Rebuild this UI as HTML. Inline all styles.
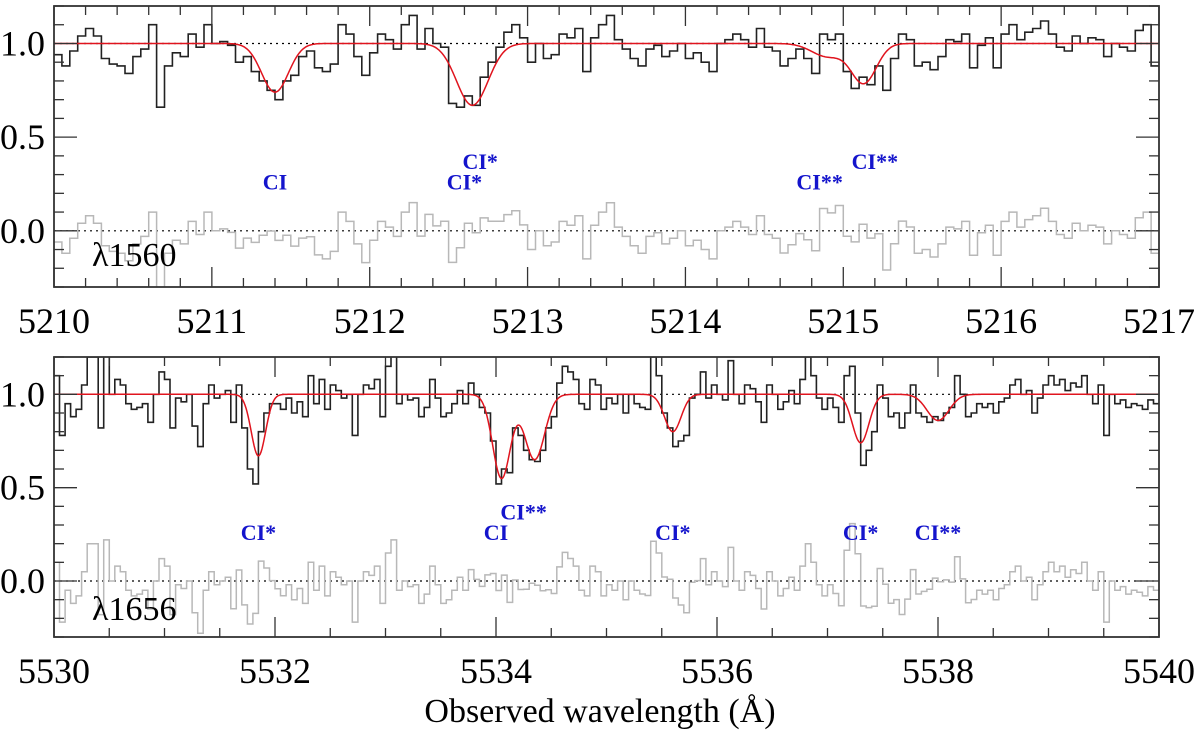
<!DOCTYPE html>
<html><head><meta charset="utf-8"><style>
body{margin:0;background:#fff}
svg text{font-family:"Liberation Serif","Times New Roman",serif}
</style></head><body>
<svg id="chart" width="1200" height="731" viewBox="0 0 1200 731" xmlns="http://www.w3.org/2000/svg"></svg>
<script>
// ---- data ----
const topStart = 5210.0;
const topBin = 0.05;
const topFlux = [
0.94,0.88,0.96,1.04,1.08,1.04,0.92,0.89,0.88,0.84,0.93,0.97,1.1,0.66,0.88,0.95,0.93,1.05,0.98,1.1,
1.0,1.01,0.99,0.9,0.93,0.85,0.8,0.75,0.7,0.8,0.83,0.93,0.96,0.87,0.85,0.89,1.1,1.05,0.93,0.83,
0.95,1.05,1.02,0.97,1.1,1.15,0.97,1.08,1.0,0.98,0.68,0.66,0.72,0.67,0.82,0.9,0.98,1.06,1.1,1.03,
0.9,1.0,0.92,0.94,1.05,1.03,1.08,0.85,1.03,1.1,1.15,1.02,0.97,0.92,0.88,0.97,0.99,0.93,0.96,1.0,
0.92,0.95,0.9,0.85,1.0,1.02,1.05,1.02,0.98,1.08,0.98,0.96,0.88,0.92,0.97,0.92,0.84,1.05,1.02,1.05,
0.85,0.76,0.82,0.78,0.88,0.75,0.92,1.05,1.02,0.88,0.9,0.86,0.93,1.02,1.01,1.05,0.87,0.99,1.03,0.87,
1.05,1.1,1.02,1.06,1.08,1.12,1.05,0.98,0.96,1.04,1.0,1.03,1.02,0.93,1.0,0.98,0.96,1.07,1.1,0.88];
const topLineCenters = [5211.4,5212.65,5214.9,5215.13];
const topLineDepths = [0.26,0.33,0.07,0.21];
const topLineSigmas = [0.085,0.1,0.1,0.08];

const botStart = 5530.0;
const botBin = 0.05;
const botFlux = [
1.1,0.78,0.95,0.88,0.92,1.05,1.2,1.2,0.82,1.22,1.0,1.08,1.05,0.95,0.92,0.93,0.95,0.85,1.0,1.12,
1.08,0.82,0.98,0.96,1.0,0.83,0.72,0.95,1.05,0.98,1.0,1.02,0.85,1.05,0.82,0.6,0.52,0.8,0.9,0.95,
0.95,0.92,0.98,0.9,0.96,0.88,1.1,0.95,1.08,0.92,1.05,1.02,0.98,1.0,0.78,1.0,1.05,1.03,1.08,0.88,
1.15,1.22,0.95,1.0,0.97,0.98,0.88,0.93,1.08,0.98,0.88,0.9,0.95,1.02,0.95,1.06,1.0,0.93,0.9,0.75,
0.52,0.6,0.58,0.82,0.78,0.7,0.65,0.64,0.7,0.82,0.88,1.06,1.15,1.12,1.08,0.95,0.92,1.08,1.05,0.92,
0.98,0.95,1.0,0.9,1.0,0.95,0.93,0.92,1.2,1.1,0.9,0.82,0.72,0.75,0.78,0.98,1.0,1.12,0.98,1.05,
1.0,0.97,1.18,1.0,0.95,1.05,1.03,0.96,0.85,1.05,1.0,0.92,0.96,1.02,0.95,1.08,1.2,1.1,0.98,0.92,
0.98,0.93,0.85,1.1,1.15,0.9,0.62,0.7,0.8,1.05,0.98,0.88,0.9,0.82,0.9,1.05,0.9,0.88,0.85,0.88,
0.86,0.9,0.93,1.1,1.0,0.88,0.9,0.95,0.93,0.95,0.9,0.96,0.98,1.05,1.08,1.0,1.02,0.9,0.98,1.05,
1.1,1.05,1.08,1.02,1.06,1.04,1.1,1.0,0.95,1.05,0.78,1.0,0.95,0.97,0.93,0.95,0.94,0.92,0.97,0.95];
const botLineCenters = [5531.85,5534.05,5534.35,5535.6,5537.3,5538.0];
const botLineDepths = [0.33,0.45,0.35,0.2,0.26,0.14];
const botLineSigmas = [0.065,0.08,0.09,0.075,0.075,0.1];

const topLabels = ["CI","CI*","CI*","CI**","CI**"];
const topLabelX = [5211.4,5212.7,5212.6,5214.85,5215.2];
const topLabelY = [0.22,0.33,0.22,0.22,0.33];
const botLabels = ["CI*","CI","CI**","CI*","CI*","CI**"];
const botLabelX = [5531.85,5534.0,5534.25,5535.6,5537.3,5538.0];
const botLabelY = [0.22,0.22,0.33,0.22,0.22,0.22];

// ---- drawing ----
const NS="http://www.w3.org/2000/svg";
const svg=document.getElementById('chart');
const FONT='"Liberation Serif","Times New Roman",serif';
function mk(tag,attrs,parent){const e=document.createElementNS(NS,tag);for(const k in attrs)e.setAttribute(k,attrs[k]);if(tag==='text')e.setAttribute('font-family',FONT);(parent||svg).appendChild(e);return e;}

function panel(cfg){
  const L=54,R=1159,T=cfg.top,B=cfg.bottom;
  const xs=v=>L+(v-cfg.x0)/(cfg.x1-cfg.x0)*(R-L);
  const ys=v=>B-(v-(-0.3))/1.5*(B-T);
  const g=mk('g',{});
  
  
  const model=x=>{let s=1;for(let i=0;i<cfg.c.length;i++)s-=cfg.d[i]*Math.exp(-0.5*Math.pow((x-cfg.c[i])/cfg.s[i],2));return s;};
  const cid='clip'+cfg.name;
  const cp=mk('clipPath',{id:cid},g);mk('rect',{x:L,y:T,width:R-L,height:B-T},cp);
  const inner=mk('g',{'clip-path':'url(#'+cid+')'},g);
  [1,0].forEach(v=>{const l=mk('line',{x1:L,x2:R,y1:ys(v),y2:ys(v),stroke:'#000','stroke-width':1.2,'stroke-dasharray':'2,4'},inner);
    
    });
  function steps(vals){let d='';vals.forEach((v,i)=>{const xa=xs(cfg.start+i*cfg.bin),xb=xs(cfg.start+(i+1)*cfg.bin);d+=(i?'L':'M')+xa.toFixed(1)+','+ys(v).toFixed(1)+'L'+xb.toFixed(1)+','+ys(v).toFixed(1);});return d;}
  const resid=cfg.flux.map((v,i)=>v-model(cfg.start+(i+0.5)*cfg.bin));
  const rp=mk('path',{d:steps(resid),fill:'none',stroke:'#b8b8b8','stroke-width':1.5},inner);
  
  
  const fp=mk('path',{d:steps(cfg.flux),fill:'none',stroke:'#222','stroke-width':1.6},inner);
  
  
  let md='';for(let px=L;px<=R;px+=1){const x=cfg.x0+(px-L)/(R-L)*(cfg.x1-cfg.x0);md+=(px===L?'M':'L')+px+','+ys(model(x)).toFixed(1);}
  const mp=mk('path',{d:md,fill:'none',stroke:'#e0141e','stroke-width':1.5},inner);
  
  
  const fr=mk('rect',{x:L,y:T,width:R-L,height:B-T,fill:'none',stroke:'#333','stroke-width':1.8},g);
  
  
  const nmin=Math.round((cfg.x1-cfg.x0)/cfg.minor);
  for(let i=0;i<=nmin;i++){const v=cfg.x0+i*cfg.minor;const major=Math.abs((v-cfg.x0)/cfg.major-Math.round((v-cfg.x0)/cfg.major))<1e-6;const len=major?20:9;const x=xs(v);
    mk('line',{x1:x,x2:x,y1:B,y2:B-len,stroke:'#333','stroke-width':1.3},g);
    mk('line',{x1:x,x2:x,y1:T,y2:T+len,stroke:'#333','stroke-width':1.3},g);
    if(major){const t=mk('text',{x:x,y:B+46,'font-size':36,'text-anchor':'middle',fill:'#000'},g);t.textContent=Math.round(v);
      
      }}
  for(let i=0;i<=15;i++){const v=-0.3+i*0.1;const major=Math.abs(v*2-Math.round(v*2))<1e-6;const len=major?23:10;const y=ys(v);
    mk('line',{x1:L,x2:L+len,y1:y,y2:y,stroke:'#333','stroke-width':1.3},g);
    mk('line',{x1:R,x2:R-len,y1:y,y2:y,stroke:'#333','stroke-width':1.3},g);
    if(major&&v<1.15){const t=mk('text',{x:45,y:y+12,'font-size':36,'text-anchor':'end',fill:'#000'},g);t.textContent=v.toFixed(1);
      
      }}
  cfg.labels.forEach((s,i)=>{const t=mk('text',{x:xs(cfg.lx[i]),y:ys(cfg.ly[i]),'font-size':22,'font-weight':'bold','text-anchor':'middle',fill:'#1414cc'},g);t.textContent=s;
    
    });
  const tl=mk('text',{x:92,y:cfg.tagY,'font-size':34,fill:'#000'},g);tl.textContent='λ'+cfg.tag;
  
  
}
panel({name:'top-panel',top:6,bottom:287,x0:5210,x1:5217,major:1,minor:0.2,start:topStart,bin:topBin,flux:topFlux,c:topLineCenters,d:topLineDepths,s:topLineSigmas,labels:topLabels,lx:topLabelX,ly:topLabelY,tag:'1560',tagY:266});
panel({name:'bottom-panel',top:357,bottom:637,x0:5530,x1:5540,major:2,minor:0.5,start:botStart,bin:botBin,flux:botFlux,c:botLineCenters,d:botLineDepths,s:botLineSigmas,labels:botLabels,lx:botLabelX,ly:botLabelY,tag:'1656',tagY:620});
const xl=mk('text',{x:600,y:722,'font-size':34,'text-anchor':'middle',fill:'#000'});
xl.textContent='Observed wavelength (Å)';


</script>
</body></html>
